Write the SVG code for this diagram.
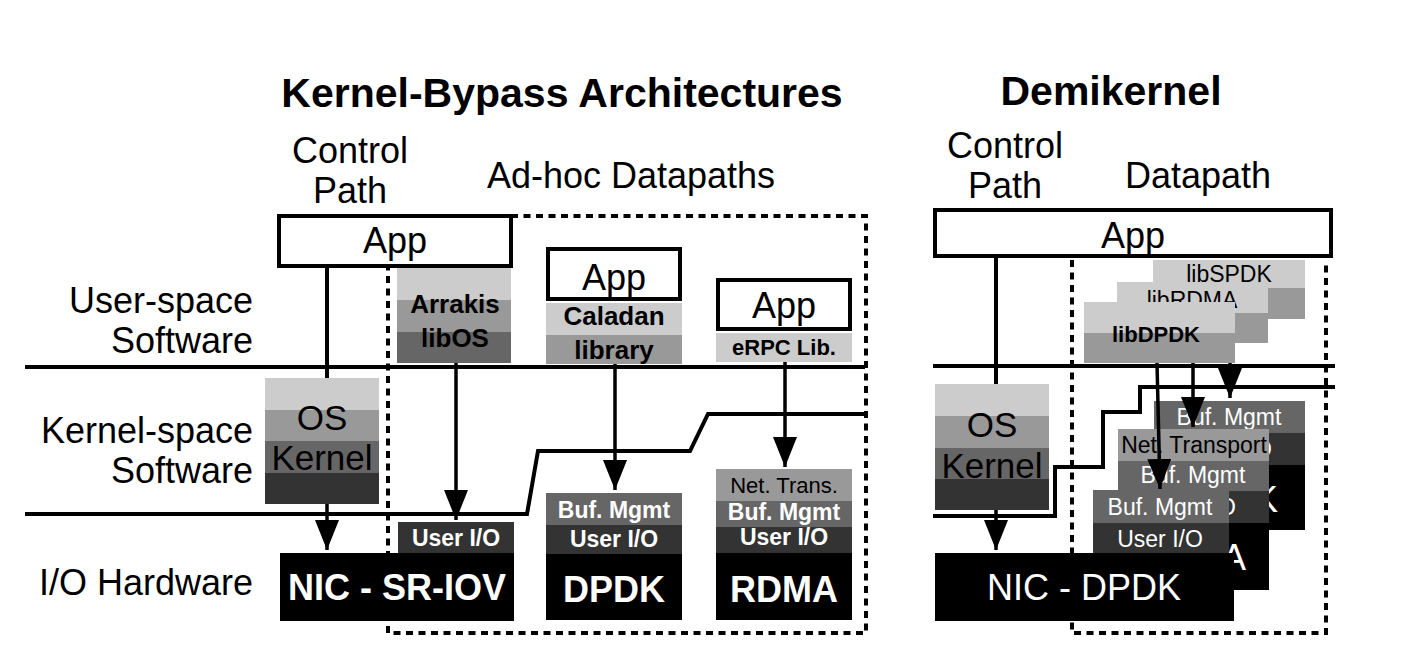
<svg xmlns="http://www.w3.org/2000/svg" width="1408" height="670" viewBox="0 0 1408 670">
<style>
text{font-family:"Liberation Sans",Arial,Helvetica,sans-serif;fill:#000}
.t{font-size:41px;font-weight:bold}
.h{font-size:36px}
.lab{font-size:36px;text-anchor:end}
.m{text-anchor:middle}
.app{font-size:36px;text-anchor:middle}
.b26{font-size:26px;font-weight:bold;text-anchor:middle}
.b23w{font-size:23px;font-weight:bold;text-anchor:middle;fill:#fff}
.b22{font-size:22px;font-weight:bold;text-anchor:middle}
.r22{font-size:22px;text-anchor:middle}
.r23{font-size:23px;text-anchor:middle}
.r23w{font-size:23px;text-anchor:middle;fill:#fff}
.nicb{font-size:36px;font-weight:bold;text-anchor:middle;fill:#fff}
.nicr{font-size:36px;text-anchor:middle;fill:#fff}
.os{font-size:35px;text-anchor:middle}
.box{fill:#fff;stroke:#000;stroke-width:4}
.ln{fill:none;stroke:#000;stroke-width:4}
.ar{fill:none;stroke:#000;stroke-width:3.5;marker-end:url(#ah)}
.dot{fill:none;stroke:#000;stroke-width:4;stroke-dasharray:7 5.5}
.c1{fill:#ccc}.c2{fill:#999}.c3{fill:#666}.c4{fill:#333}.c5{fill:#000}
</style>
<defs>
<marker id="ah" markerUnits="userSpaceOnUse" markerWidth="30" markerHeight="24" refX="30" refY="12" orient="auto">
<path d="M0,0 L30,12 L0,24 z" fill="#000"/>
</marker>
</defs>
<rect width="1408" height="670" fill="#fff"/>

<g id="titles">
<text class="t m" x="562" y="107">Kernel-Bypass Architectures</text>
<text class="h m" x="350" y="163">Control</text>
<text class="h m" x="350" y="203">Path</text>
<text class="h m" x="631" y="188">Ad-hoc Datapaths</text>
<text class="t m" x="1111" y="105">Demikernel</text>
<text class="h m" x="1005" y="158">Control</text>
<text class="h m" x="1005" y="198">Path</text>
<text class="h m" x="1198" y="188">Datapath</text>
</g>

<g id="layer-labels">
<text class="lab" x="253" y="313">User-space</text>
<text class="lab" x="253" y="353">Software</text>
<text class="lab" x="253" y="443">Kernel-space</text>
<text class="lab" x="253" y="483">Software</text>
<text class="lab" x="253" y="595">I/O Hardware</text>
</g>

<g id="boundaries">
<path class="ln" d="M25,367 H865"/>
<path class="ln" d="M25,514 H527 L538,451 H690 L708,414 H865"/>
<path class="ln" d="M933,366 H1335"/>
<path class="ln" d="M933,516 H1055 V467 H1103 V412 H1140 V387 H1335"/>
</g>

<g id="adhoc-region">
<path class="dot" d="M511,216 H866 V633 H388 V268"/>
</g>
<g id="demikernel-region">
<path class="dot" d="M1072,260 V633 H1326 V262"/>
</g>

<g id="left-app">
<rect class="box" x="279" y="216" width="232" height="50"/>
<text class="app" x="395" y="253">App</text>
</g>

<g id="left-os">
<rect class="c1" x="265" y="378" width="114" height="32"/>
<rect class="c2" x="265" y="410" width="114" height="31"/>
<rect class="c3" x="265" y="441" width="114" height="32"/>
<rect class="c4" x="265" y="473" width="114" height="31"/>
<text class="os" x="322" y="430">OS</text>
<text class="os" x="322" y="470">Kernel</text>
</g>

<g id="arrakis">
<rect class="c1" x="397" y="268" width="114" height="32"/>
<rect class="c2" x="397" y="300" width="114" height="32"/>
<rect class="c3" x="397" y="332" width="114" height="31"/>
<text class="b26" x="455" y="313">Arrakis</text>
<text class="b26" x="455" y="347">libOS</text>
</g>

<g id="nic-sriov">
<rect class="c4" x="398" y="522" width="116" height="31"/>
<text class="b23w" x="456" y="546">User I/O</text>
<rect class="c5" x="280" y="553" width="234" height="68"/>
<text class="nicb" x="397" y="600">NIC - SR-IOV</text>
</g>

<g id="caladan">
<rect class="box" x="548" y="249" width="132" height="50"/>
<text class="app" x="614" y="290">App</text>
<rect class="c1" x="546" y="303" width="136" height="32"/>
<rect class="c2" x="546" y="335" width="136" height="29"/>
<text class="b26" x="614" y="325">Caladan</text>
<text class="b26" x="614" y="359">library</text>
</g>

<g id="dpdk">
<rect class="c3" x="546" y="493" width="136" height="32"/>
<rect class="c4" x="546" y="525" width="136" height="29"/>
<rect class="c5" x="546" y="554" width="136" height="66"/>
<text class="b23w" x="614" y="518">Buf. Mgmt</text>
<text class="b23w" x="614" y="547">User I/O</text>
<text class="nicb" x="614" y="602">DPDK</text>
</g>

<g id="erpc">
<rect class="box" x="718" y="280" width="132" height="49"/>
<text class="app" x="784" y="318">App</text>
<rect class="c1" x="716" y="333" width="136" height="29"/>
<text class="b22" x="784" y="355">eRPC Lib.</text>
</g>

<g id="rdma">
<rect class="c2" x="716" y="469" width="136" height="32"/>
<rect class="c3" x="716" y="501" width="136" height="26"/>
<rect class="c4" x="716" y="527" width="136" height="26"/>
<rect class="c5" x="716" y="553" width="136" height="67"/>
<text class="r22" x="784" y="493">Net. Trans.</text>
<text class="b23w" x="784" y="520">Buf. Mgmt</text>
<text class="b23w" x="784" y="545">User I/O</text>
<text class="nicb" x="784" y="602">RDMA</text>
</g>

<g id="right-app">
<rect class="box" x="935" y="210" width="396" height="46"/>
<text class="app" x="1133" y="248">App</text>
</g>

<g id="libspdk">
<rect class="c1" x="1153" y="260" width="152" height="28"/>
<rect class="c2" x="1153" y="288" width="152" height="31"/>
<text class="r23" x="1229" y="282">libSPDK</text>
</g>
<g id="librdma">
<rect class="c1" x="1117" y="282" width="151" height="31"/>
<rect class="c2" x="1117" y="313" width="151" height="30"/>
<text class="r23" x="1192" y="308">libRDMA</text>
</g>
<g id="libdpdk">
<rect class="c1" x="1084" y="302" width="151" height="31"/>
<rect class="c2" x="1084" y="333" width="151" height="30"/>
<text class="b22" x="1156" y="342">libDPDK</text>
</g>

<g id="right-os">
<rect class="c1" x="935" y="384" width="114" height="32"/>
<rect class="c2" x="935" y="416" width="114" height="32"/>
<rect class="c3" x="935" y="448" width="114" height="31"/>
<rect class="c4" x="935" y="479" width="114" height="31"/>
<text class="os" x="992" y="437">OS</text>
<text class="os" x="992" y="478">Kernel</text>
</g>

<g id="spdk-stack">
<rect class="c3" x="1154" y="401" width="151" height="32"/>
<rect class="c4" x="1154" y="433" width="151" height="32"/>
<rect class="c5" x="1154" y="465" width="151" height="65"/>
<text class="r23w" x="1229" y="425">Buf. Mgmt</text>
<text class="r23w" x="1229" y="457">User I/O</text>
<text class="nicr" x="1229" y="512">SPDK</text>
</g>

<g id="rdma-stack">
<rect class="c2" x="1118" y="429" width="151" height="32"/>
<rect class="c3" x="1118" y="461" width="151" height="30"/>
<rect class="c4" x="1118" y="491" width="151" height="32"/>
<rect class="c5" x="1118" y="523" width="151" height="67"/>
<text class="r23" x="1194" y="453">Net. Transport</text>
<text class="r23w" x="1193" y="483">Buf. Mgmt</text>
<text class="r23w" x="1193" y="515">User I/O</text>
<text class="nicr" x="1193" y="570">RDMA</text>
</g>

<g id="dpdk-stack">
<rect class="c3" x="1093" y="490" width="136" height="33"/>
<rect class="c4" x="1093" y="523" width="136" height="32"/>
<rect class="c5" x="935" y="553" width="299" height="68"/>
<text class="r23w" x="1160" y="515">Buf. Mgmt</text>
<text class="r23w" x="1160" y="547">User I/O</text>
<text class="nicr" x="1084" y="600">NIC - DPDK</text>
</g>

<g id="connectors">
<path class="ln" d="M327,266 V378"/>
<path class="ar" d="M327,504 V550"/>
<path class="ar" d="M456,363 V520"/>
<path class="ar" d="M615,364 V490"/>
<path class="ar" d="M785,362 V467"/>
<path class="ln" d="M996,256 V384"/>
<path class="ar" d="M996,510 V550"/>
<path class="ar" d="M1157,363 L1160,489"/>
<path class="ar" d="M1193,363 V427"/>
<path class="ar" d="M1230,363 V398"/>
</g>
</svg>
